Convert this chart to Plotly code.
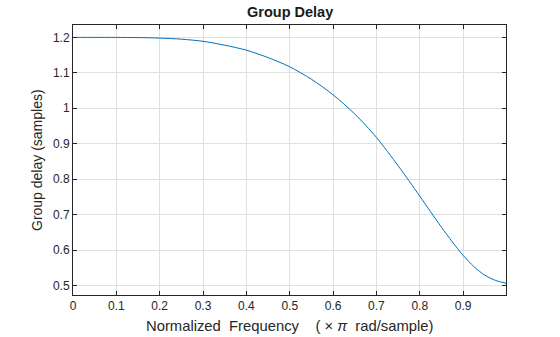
import plotly.graph_objects as go

# Normalized frequency (x pi rad/sample) and group delay in samples
freq = [0.0, 0.05, 0.1, 0.15, 0.2, 0.25, 0.3, 0.35, 0.4, 0.45, 0.5, 0.55,
        0.6, 0.65, 0.7, 0.75, 0.775, 0.8, 0.825, 0.85, 0.875, 0.9, 0.925,
        0.95, 0.975, 0.999]
delay = [1.200, 1.200, 1.200, 1.1995, 1.198, 1.195, 1.189, 1.178, 1.164, 1.143,
         1.117, 1.082, 1.038, 0.984, 0.918, 0.838, 0.7955, 0.752, 0.708, 0.6645,
         0.623, 0.585, 0.553, 0.529, 0.514, 0.5063]

x_ticks = [0, 0.1, 0.2, 0.3, 0.4, 0.5, 0.6, 0.7, 0.8, 0.9]
x_tick_text = ["0", "0.1", "0.2", "0.3", "0.4", "0.5", "0.6", "0.7", "0.8", "0.9"]
y_ticks = [0.5, 0.6, 0.7, 0.8, 0.9, 1.0, 1.1, 1.2]
y_tick_text = ["0.5", "0.6", "0.7", "0.8", "0.9", "1", "1.1", "1.2"]

FONT = "Liberation Sans, Arial, Helvetica, sans-serif"

fig = go.Figure()
fig.add_trace(go.Scatter(
    x=freq, y=delay, mode="lines",
    line=dict(color="#0072BD", width=1, shape="spline", smoothing=0.8),
    hoverinfo="skip", showlegend=False,
))

axis_common = dict(
    showline=True, linecolor="#262626", linewidth=1, mirror="ticks",
    ticks="inside", ticklen=4, tickcolor="#262626", tickwidth=1,
    showgrid=True, gridcolor="#dfdfdf", gridwidth=1, zeroline=False,
    tickfont=dict(family=FONT, size=12, color="#262626"),
)

fig.update_xaxes(range=[0, 0.999], tickvals=x_ticks, ticktext=x_tick_text, **axis_common)
fig.update_yaxes(range=[0.473, 1.235], tickvals=y_ticks, ticktext=y_tick_text, **axis_common)

fig.update_layout(
    width=560, height=337,
    margin=dict(l=73, r=54, t=25, b=42),
    paper_bgcolor="white", plot_bgcolor="white",
    font=dict(family=FONT, color="#262626"),
    annotations=[
        dict(text="<b>Group Delay</b>", x=0.5, y=1, xref="paper", yref="paper",
             xanchor="center", yanchor="bottom", yshift=3, showarrow=False,
             font=dict(size=14.5, family=FONT, color="#1a1a1a")),
        dict(text="Normalized  Frequency    ( \u00d7 <i>\u03c0</i>  rad/sample)",
             x=0.5, y=0, xref="paper", yref="paper", xanchor="center", yanchor="top",
             yshift=-21, showarrow=False, font=dict(size=14.8, family=FONT, color="#262626")),
        dict(text="Group delay (samples)", x=0, y=0.5, xref="paper", yref="paper",
             xanchor="center", yanchor="middle", xshift=-36, textangle=-90,
             showarrow=False, font=dict(size=14, family=FONT, color="#262626")),
    ],
)

fig.write_html("out.html")
